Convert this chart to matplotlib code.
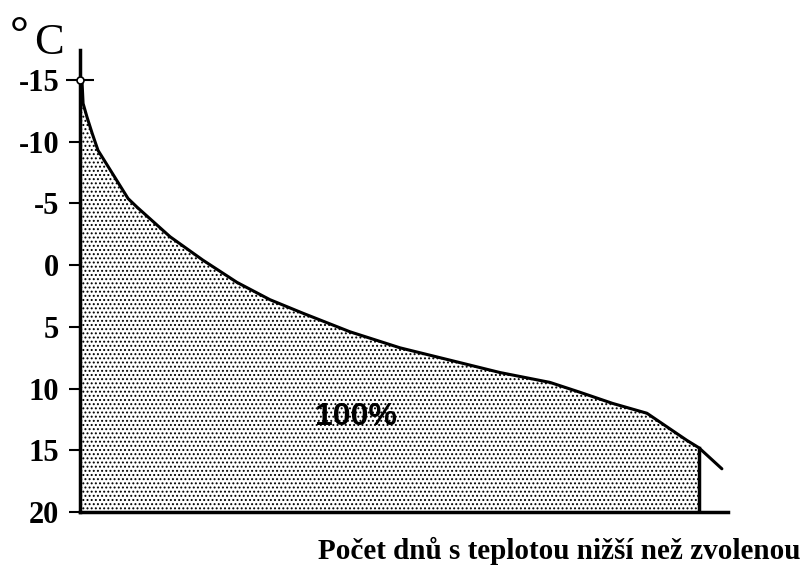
import numpy as np
import matplotlib.pyplot as plt

# curve: days vs temperature (deg C)
days = [0, 1.2, 1.8, 4.1, 7.1, 10.6, 16.5, 22.4, 28.3, 33.6, 53.1, 72.5, 92.6,
        112.0, 131.5, 159.2, 188.7, 218.2, 247.6, 277.1, 294.8, 314.0, 334.3,
        346.1, 357.9, 365.0, 378.5]
temps = [-15.0, -14.8, -13.1, -12.0, -10.7, -9.3, -8.0, -6.7, -5.4, -4.7, -2.3,
         -0.4, 1.4, 2.8, 3.9, 5.4, 6.7, 7.7, 8.7, 9.5, 10.3, 11.2, 12.0, 13.1,
         14.2, 14.8, 16.5]
year_end = 365.0
yticks = [-15, -10, -5, 0, 5, 10, 15, 20]
y_bottom = 20

fig = plt.figure(figsize=(8.06, 5.78), dpi=100)
ax = fig.add_axes([0.0993, 0.1142, 0.8037, 0.7993])

days = np.array(days)
temps = np.array(temps)
inside = days <= year_end

# stippled area under the curve up to the end of the year
plt.rcParams['hatch.linewidth'] = 0.9
ax.fill_between(days[inside], temps[inside], y_bottom, facecolor='white',
                edgecolor='black', hatch='....', linewidth=0)
ax.plot(days, temps, color='black', lw=2.2, solid_capstyle='round',
        solid_joinstyle='round')
ax.plot([year_end, year_end], [temps[days == year_end][0], y_bottom], color='black', lw=2.5)
ax.plot(days[0], temps[0], marker='o', ms=5, mfc='white', mec='black', mew=1.2,
        clip_on=False, zorder=5)

ax.set_xlim(0, 382)
ax.set_ylim(y_bottom, -17.43)
ax.set_yticks(yticks)
ax.set_yticklabels([str(t) for t in yticks], family='Liberation Serif',
                   fontweight='bold', fontsize=22)
ax.set_xticks([])
ax.tick_params(axis='y', direction='out', length=8, width=1.5, pad=7)
# -15 tick crosses the axis
t0 = ax.yaxis.get_major_ticks()[0]
t0.tick1line.set_marker('_')
t0.tick1line.set_markersize(20)

for s in ['top', 'right']:
    ax.spines[s].set_visible(False)
ax.spines['left'].set_linewidth(2.5)
ax.spines['bottom'].set_linewidth(2.5)

ax.text(163, 12.3, '100%', family='Liberation Sans', fontweight='bold',
        fontsize=23, ha='center', va='center')
fig.text(0.012, 0.936, '°', family='Liberation Serif', fontweight='bold',
         fontsize=34, ha='left', va='center')
fig.text(0.042, 0.926, 'C', family='Liberation Serif', fontsize=32,
         ha='left', va='center')
fig.text(0.993, 0.022, 'Počet dnů s teplotou nižší než zvolenou',
         family='Liberation Serif', fontweight='bold', fontsize=21,
         ha='right', va='bottom')

fig.savefig('out.png', dpi=100)
